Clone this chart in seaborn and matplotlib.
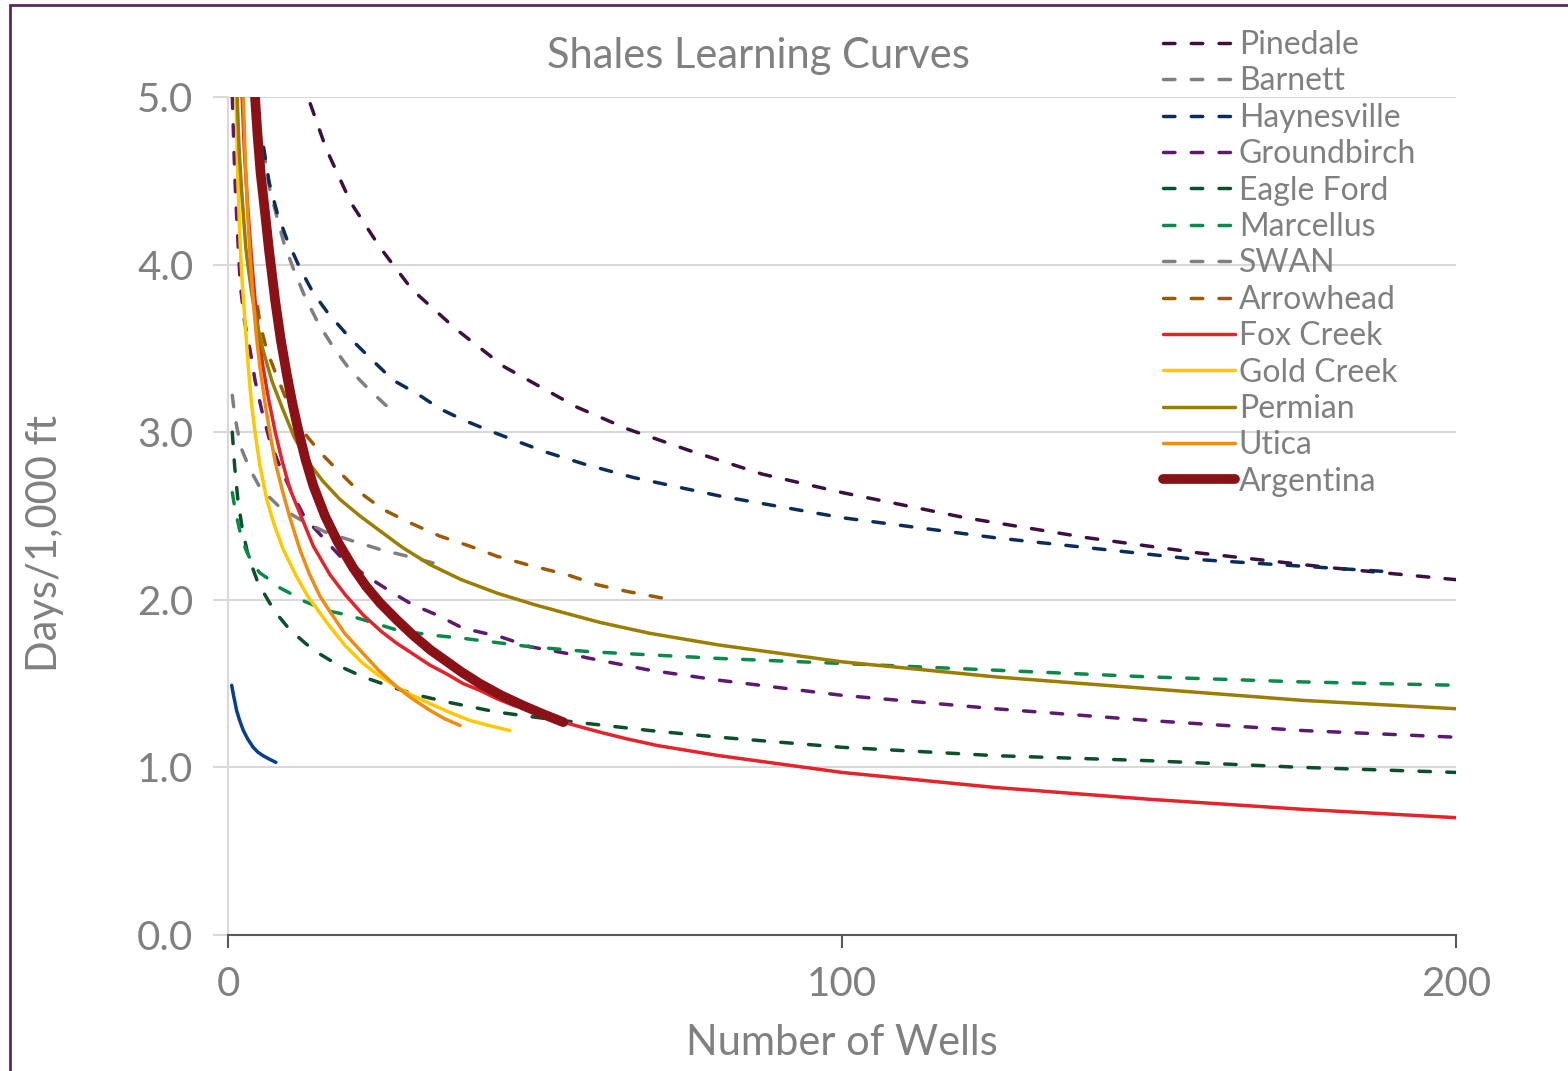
import matplotlib
matplotlib.use('Agg')
import numpy as np
import pandas as pd
import matplotlib.pyplot as plt
import seaborn as sns
from matplotlib.lines import Line2D
from matplotlib.patches import Rectangle

# Values (number of wells vs days per 1,000 ft)
pinedale_wells = [13.4, 16, 20, 24.8, 30, 37.3, 45, 56.8, 65, 75.2, 87, 100, 120, 140, 158, 180, 200]
pinedale_days = [4.96, 4.69, 4.37, 4.10, 3.85, 3.61, 3.39, 3.15, 3.02, 2.89, 2.75, 2.64, 2.49, 2.37, 2.28, 2.19, 2.12]

barnett_wells = [5.8, 6.8, 8.0, 9.1, 10.7, 12.5, 14.7, 17.1, 19.9, 23.1, 26.9]
barnett_days = [4.68, 4.45, 4.28, 4.13, 3.97, 3.81, 3.65, 3.51, 3.37, 3.25, 3.12]

haynesville_wells = [5.8, 6.7, 8.0, 9.6, 11.7, 13.9, 16.3, 19.9, 23.5, 26.9, 30.8, 34.5, 38.5, 43.2, 47.5, 51.9, 58, 66,
                     80, 100, 125, 158, 188]
haynesville_days = [4.70, 4.49, 4.31, 4.15, 3.98, 3.83, 3.71, 3.56, 3.43, 3.31, 3.23, 3.14, 3.07, 3.00, 2.94, 2.88, 2.81, 2.73,
                    2.62, 2.49, 2.37, 2.24, 2.17]

groundbirch_wells = [0.7, 1.0, 1.2, 1.5, 2.0, 2.7, 3.6, 4.4, 5.5, 6.8, 8.5, 10.4, 12.5, 15.5, 18.5, 22.6, 26.9, 30.1, 34, 38.3,
                     44.3, 49.2, 55.2, 59, 68.7, 80, 100, 125, 150, 175, 200]
groundbirch_days = [5.0, 4.65, 4.45, 4.22, 3.88, 3.66, 3.49, 3.31, 3.13, 2.95, 2.79, 2.64, 2.49, 2.37, 2.25, 2.14, 2.04, 1.97, 1.91, 1.83,
                    1.78, 1.72, 1.68, 1.65, 1.58, 1.52, 1.43, 1.35, 1.28, 1.22, 1.18]

eagleford_wells = [0.7, 0.9, 1.1, 1.6, 2.3, 3.3, 4.9, 6.8, 8.3, 10.1, 12.0, 13.9, 16.6, 19.0, 22.0, 27.5, 31.0, 35.7, 43.8,
                   52.0, 59.0, 68.7, 80, 100, 125, 150, 175, 200]
eagleford_days = [3.0, 2.89, 2.79, 2.60, 2.43, 2.26, 2.10, 1.98, 1.90, 1.82, 1.76, 1.70, 1.64, 1.59, 1.54, 1.47, 1.43, 1.39, 1.33,
                  1.29, 1.26, 1.22, 1.18, 1.12, 1.07, 1.04, 1.00, 0.97]

marcellus_wells = [0.7, 1.2, 2.0, 2.9, 3.9, 5.2, 6.8, 8.5, 10.6, 12.5, 14.5, 16.8, 19.4, 23.0, 27.5, 33.0, 38.3, 49.2, 59.0,
                   80, 100, 125, 150, 175, 200]
marcellus_days = [2.64, 2.53, 2.40, 2.30, 2.22, 2.16, 2.12, 2.07, 2.03, 1.99, 1.96, 1.93, 1.91, 1.87, 1.82, 1.79, 1.77, 1.72, 1.69,
                  1.65, 1.62, 1.58, 1.54, 1.51, 1.49]

swan_wells = [0.7, 1.1, 1.6, 2.2, 3.1, 4.0, 5.2, 6.8, 8.5, 10.3, 12.2, 16.1, 20.4, 24.8, 29.2, 33.4]
swan_days = [3.22, 3.10, 3.0, 2.90, 2.82, 2.75, 2.67, 2.61, 2.55, 2.51, 2.47, 2.40, 2.35, 2.30, 2.26, 2.22]

arrowhead_wells = [4.8, 5.2, 6.3, 8.0, 10.0, 12.1, 15.0, 18.2, 21.5, 25.2, 29.6, 34.5, 39.4, 43.8, 48.7, 55.2, 60.1, 65, 70.8]
arrowhead_days = [3.75, 3.65, 3.49, 3.33, 3.15, 3.01, 2.88, 2.76, 2.64, 2.54, 2.46, 2.38, 2.32, 2.26, 2.21, 2.15, 2.09, 2.05, 2.01]

foxcreek_wells = [2.3, 2.7, 3.2, 3.8, 4.4, 5.0, 5.7, 6.6, 7.7, 8.8, 10.1, 12.0, 13.9, 16.6, 19.1, 22.0, 25.0, 27.5, 30.0,
                  32.9, 35.5, 38.3, 41.0, 43.8, 46.5, 49.2, 54.6, 60.6, 65, 70, 80, 90, 100, 125, 150, 175, 200]
foxcreek_days = [5.0, 4.65, 4.35, 4.05, 3.79, 3.58, 3.39, 3.20, 3.0, 2.83, 2.66, 2.49, 2.32, 2.15, 2.03, 1.91, 1.81, 1.74, 1.68,
                 1.61, 1.56, 1.50, 1.46, 1.41, 1.37, 1.34, 1.27, 1.21, 1.17, 1.13, 1.07, 1.02, 0.97, 0.88, 0.81, 0.75, 0.70]

goldcreek_wells = [1.3, 1.6, 2.0, 2.3, 2.6, 3.3, 3.8, 4.4, 5.2, 6.3, 7.5, 9.0, 11.0, 13.0, 16.6, 19.0, 22.0, 24.5, 27.5, 30.0,
                   32.9, 36.0, 39.4, 42.5, 45.9]
goldcreek_days = [5.0, 4.50, 4.10, 3.90, 3.75, 3.39, 3.18, 3.0, 2.80, 2.60, 2.45, 2.30, 2.15, 2.02, 1.84, 1.73, 1.62, 1.55, 1.48, 1.43,
                  1.38, 1.33, 1.28, 1.25, 1.22]

permian_wells = [1.5, 1.8, 2.2, 2.5, 2.9, 3.3, 3.9, 4.7, 5.7, 7.2, 9.0, 10.8, 12.9, 15.4, 18.2, 21.5, 24.8, 28.5, 32.9, 38.0,
                 43.8, 50.0, 55.0, 60.6, 68.7, 80, 100, 125, 150, 175, 200]
permian_days = [5.0, 4.70, 4.45, 4.30, 4.10, 3.98, 3.82, 3.65, 3.49, 3.30, 3.13, 2.97, 2.83, 2.71, 2.60, 2.50, 2.41, 2.31, 2.21, 2.12,
                2.04, 1.97, 1.92, 1.865, 1.80, 1.73, 1.63, 1.54, 1.47, 1.40, 1.35]

utica_wells = [2.5, 2.8, 3.2, 3.6, 4.1, 4.6, 5.2, 6.0, 6.8, 7.7, 8.8, 10.0, 11.7, 13.3, 15.0, 16.6, 19.0, 22.0, 24.5, 27.5,
               30.0, 32.9, 35.3, 37.8]
utica_days = [5.0, 4.65, 4.30, 4.05, 3.79, 3.58, 3.39, 3.18, 3.0, 2.82, 2.66, 2.50, 2.30, 2.15, 2.02, 1.93, 1.80, 1.68, 1.58, 1.48,
              1.41, 1.34, 1.29, 1.25]

argentina_wells = [4.4, 4.8, 5.3, 6.0, 6.7, 7.7, 8.6, 9.6, 10.5, 11.4, 12.6, 13.9, 15.8, 17.8, 20.4, 22.5, 24.8, 27.5, 30.1,
                   33.0, 35.7, 38.0, 41.0, 44.5, 48.0, 51.5, 54.6]
argentina_days = [5.0, 4.78, 4.55, 4.32, 4.08, 3.78, 3.55, 3.34, 3.17, 3.02, 2.84, 2.68, 2.50, 2.35, 2.19, 2.08, 1.98, 1.88, 1.79,
                  1.70, 1.63, 1.57, 1.50, 1.43, 1.37, 1.315, 1.27]

# short blue curve with no legend entry
unnamed_wells = [0.6, 0.9, 1.4, 1.9, 2.5, 3.2, 4.1, 4.9, 5.7, 6.7, 7.8]
unnamed_days = [1.49, 1.43, 1.34, 1.28, 1.22, 1.17, 1.12, 1.09, 1.07, 1.05, 1.03]

shales = ['Pinedale', 'Barnett', 'Haynesville', 'Groundbirch', 'Eagle Ford', 'Marcellus', 'SWAN',
          'Arrowhead', 'Fox Creek', 'Gold Creek', 'Permian', 'Utica', 'Argentina']
wells = [pinedale_wells, barnett_wells, haynesville_wells, groundbirch_wells, eagleford_wells, marcellus_wells,
         swan_wells, arrowhead_wells, foxcreek_wells, goldcreek_wells, permian_wells, utica_wells, argentina_wells]
days = [pinedale_days, barnett_days, haynesville_days, groundbirch_days, eagleford_days, marcellus_days,
        swan_days, arrowhead_days, foxcreek_days, goldcreek_days, permian_days, utica_days, argentina_days]

colors = ['#3d1040', '#7f7f7f', '#0b2d5b', '#5e1a6e', '#0b4f2b', '#0a8a4a', '#7f7f7f',
          '#9c5a06', '#e3242b', '#ffc800', '#9b7d00', '#f08c10', '#8a1116']
dashed = [True] * 8 + [False] * 5

grey_txt = '#808080'
dash_pat = (0, (3.3, 4.7))

sns.set_theme(style='white')
plt.rcParams['font.family'] = ['Lato', 'DejaVu Sans']

fig = plt.figure(figsize=(15.68, 10.71), dpi=100)
ax = fig.add_axes([228 / 1568, 1 - 935 / 1071, (1456 - 228) / 1568, (935 - 97) / 1071])

handles = []
for name, xw, yd, c, d in zip(shales, wells, days, colors, dashed):
    df = pd.DataFrame({'wells': xw, 'days': yd})
    lw = 7 if name == 'Argentina' else 2.5
    kw = dict(linestyle=dash_pat, dash_capstyle='round') if d else dict(solid_capstyle='round')
    sns.lineplot(data=df, x='wells', y='days', ax=ax, color=c, linewidth=lw,
                 estimator=None, errorbar=None, sort=False, legend=False, **kw)
    handles.append(Line2D([0], [0], color=c, lw=lw, label=name, **kw))

df_u = pd.DataFrame({'wells': unnamed_wells, 'days': unnamed_days})
sns.lineplot(data=df_u, x='wells', y='days', ax=ax, color='#063f8c', linewidth=2.5,
             estimator=None, errorbar=None, sort=False, legend=False, solid_capstyle='round')

ax.set_xlim(0, 200)
ax.set_ylim(0, 5)
ax.set_xticks([0, 100, 200])
ax.set_yticks([0, 1, 2, 3, 4, 5])
ax.set_yticklabels(['0.0', '1.0', '2.0', '3.0', '4.0', '5.0'])
ax.set_xlabel('')
ax.set_ylabel('')
ax.yaxis.grid(True, color='#d9d9d9', lw=1.5)
ax.xaxis.grid(False)
ax.set_axisbelow(True)
for s in ['top', 'right']:
    ax.spines[s].set_visible(False)
ax.spines['left'].set_color('#d9d9d9')
ax.spines['left'].set_linewidth(1.5)
ax.spines['bottom'].set_color('#595959')
ax.spines['bottom'].set_linewidth(1.5)
ax.spines['bottom'].set_zorder(5)
ax.tick_params(axis='x', direction='out', length=9, width=1.5, color='#595959',
               labelsize=29, labelcolor=grey_txt, pad=13, bottom=True)
ax.tick_params(axis='y', direction='out', length=11, width=1.5, color='#d9d9d9',
               labelsize=29, labelcolor=grey_txt, pad=14, left=True)

fig.text(758 / 1568, 1 - 56 / 1071, 'Shales Learning Curves', ha='center', va='center',
         fontsize=30, color=grey_txt)
fig.text(45 / 1568, 1 - 543 / 1071, 'Days/1,000 ft', rotation=90, ha='center', va='center',
         fontsize=30, color=grey_txt)
fig.text(842 / 1568, 1 - 1043 / 1071, 'Number of Wells', ha='center', va='center',
         fontsize=30, color=grey_txt)

leg = fig.legend(handles=handles, loc='upper left', bbox_to_anchor=(1163 / 1568, 1 - 30 / 1071),
                 frameon=False, fontsize=23, labelspacing=0.2, handlelength=2.25,
                 handletextpad=0.12, borderpad=0, borderaxespad=0)
for t in leg.get_texts():
    t.set_color(grey_txt)

fig.patches.append(Rectangle((10 / 1568, -0.05), 1.2, 1.05 - 4.5 / 1071, transform=fig.transFigure,
                             fill=False, edgecolor='#5b2a5e', lw=2))

fig.savefig('out.png', dpi=100)
